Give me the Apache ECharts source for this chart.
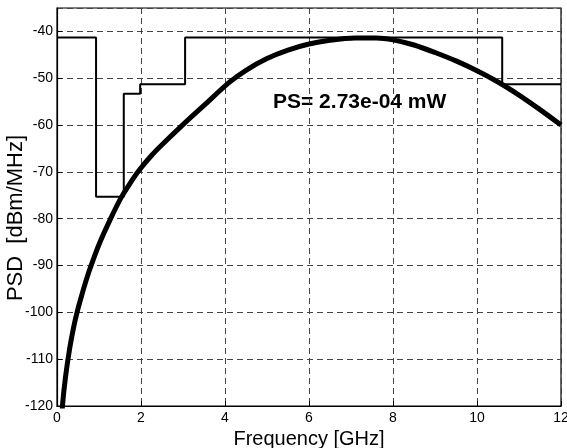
<!DOCTYPE html>
<html>
<head>
<meta charset="utf-8">
<script src="https://cdn.jsdelivr.net/npm/echarts@6/dist/echarts.min.js"></script>
<style>html,body{margin:0;padding:0;background:#fff;}#c{width:567px;height:448px;}</style>
</head>
<body>
<div id="c"></div>
<script>
// Emission mask (step breakpoints, GHz) and levels (dBm/MHz)
var maskFreq = [0, 0.93, 1.59, 1.98, 3.05, 10.6, 12];
var maskLevel = [-41.3, -75.3, -53.3, -51.3, -41.3, -51.3];
// Signal PSD curve
var psdFreq = [0.11, 0.13, 0.2, 0.3, 0.4, 0.5, 0.6, 0.7, 0.8, 1.0, 1.26, 1.52, 1.75, 1.96, 2.25, 2.5, 3.0, 3.5, 4.1, 4.5, 5.0, 5.5, 6.0, 6.5, 7.1, 7.6, 8.0, 8.5, 9.0, 9.5, 10.0, 10.5, 11.0, 11.5, 12.0];
var psdValue = [-124, -120, -114, -107.8, -103, -99.2, -96, -93, -90.3, -85.5, -80.3, -75.6, -72.3, -69.6, -66.5, -64.2, -59.9, -55.8, -50.9, -48.3, -45.8, -44, -42.7, -41.9, -41.4, -41.4, -41.8, -42.9, -44.5, -46.3, -48.4, -50.8, -53.6, -56.7, -60];
var xTicks = [0, 2, 4, 6, 8, 10, 12];
var yTicks = [-120, -110, -100, -90, -80, -70, -60, -50, -40];
var annotation = 'PS= 2.73e-04 mW';
var xName = 'Frequency [GHz]';
var yName = 'PSD  [dBm/MHz]';

var maskData = [];
for (var i = 0; i < maskLevel.length; i++) {
  maskData.push([maskFreq[i], maskLevel[i]]);
  maskData.push([maskFreq[i + 1], maskLevel[i]]);
}
var psdData = psdFreq.map(function (f, i) { return [f, psdValue[i]]; });

var FONT = 'Arial, "Liberation Sans", sans-serif';
var chart = echarts.init(document.getElementById('c'), null, {renderer: 'canvas'});
var gridLine = {show: true, lineStyle: {color: '#444', width: 1, type: [6, 4]}};
chart.setOption({
  animation: false,
  backgroundColor: '#fff',
  grid: {left: 57, right: 6, top: 8, bottom: 42, containLabel: false, outerBoundsMode: 'none',
         show: true, borderColor: '#000', borderWidth: 1.2, backgroundColor: 'transparent'},
  xAxis: {
    type: 'value', min: 0, max: 12, interval: 2,
    name: xName, nameLocation: 'middle', nameGap: 20,
    nameTextStyle: {fontFamily: FONT, fontSize: 20, color: '#000'},
    axisLine: {show: true, lineStyle: {color: '#000', width: 1.2}},
    axisTick: {show: true, inside: true, length: 5, lineStyle: {color: '#000'}},
    axisLabel: {fontFamily: FONT, fontSize: 14, color: '#000', margin: 5,
      formatter: function (v) { return xTicks.indexOf(v) >= 0 ? String(v) : ''; }},
    splitLine: gridLine
  },
  yAxis: {
    type: 'value', min: -120, max: -35, interval: 10,
    axisLine: {show: true, lineStyle: {color: '#000', width: 1.2}},
    axisTick: {show: true, inside: true, length: 5, lineStyle: {color: '#000'}},
    axisLabel: {fontFamily: FONT, fontSize: 14, color: '#000', margin: 4, showMaxLabel: false,
      formatter: function (v) { return yTicks.indexOf(v) >= 0 ? String(v) : ''; }},
    splitLine: gridLine
  },
  series: [
    {type: 'line', data: maskData, showSymbol: false, symbol: 'none',
     lineStyle: {color: '#000', width: 2}, z: 3},
    {type: 'line', data: psdData, showSymbol: false, symbol: 'none', smooth: 0.3, clip: true,
     lineStyle: {color: '#000', width: 5}, z: 4}
  ],
  graphic: [{
    type: 'text', left: 273, top: 92,
    style: {text: annotation, fontFamily: FONT, fontSize: 21, fontWeight: 'bold', fill: '#000'}
  }, {
    type: 'text', x: 16, y: 218, rotation: Math.PI / 2,
    style: {text: yName, fontFamily: FONT, fontSize: 22, fill: '#000', align: 'center', verticalAlign: 'middle'}
  }]
});
</script>
</body>
</html>
